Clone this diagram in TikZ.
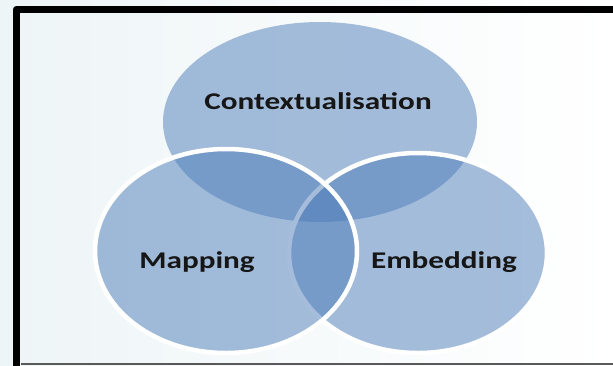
\documentclass[tikz,border=0pt]{standalone}
\usepackage{fontspec}
\newfontfamily\vennfont[FakeStretch=1.3]{Carlito}
\definecolor{vennblue}{RGB}{77,125,185}
\definecolor{bgtint}{RGB}{238,245,247}
\definecolor{labelink}{RGB}{22,22,22}
\tikzset{
  set/.style={fill=vennblue, fill opacity=0.5},
  setborder/.style={draw=white, line width=4.5pt},
  setlabel/.style={anchor=base, text=labelink, font=\vennfont\bfseries\fontsize{24}{28}\selectfont}
}
\begin{document}
\begin{tikzpicture}[x=1pt,y=-1pt]
\def\topset{(320,122) ellipse (157pt and 100pt)}
\def\leftset{(226,251) ellipse (131pt and 102pt)}
\def\rightset{(418,253) ellipse (129pt and 100pt)}

\useasboundingbox (0,0) rectangle (613,365);
\shade[left color=bgtint, right color=white] (0,0) rectangle (613,365);

\fill[set] \topset;
\fill[set] \rightset;
\draw[setborder] \rightset;
\fill[set] \leftset;
\draw[setborder] \leftset;

\draw[line width=7.5pt, line join=round] (16.5,366) -- (16.5,9.5) -- (614,9.5);
\draw[gray!70!black, line width=1.5pt] (20.5,364) -- (613,364);

\node[setlabel] (ctx) at (318,109) {Contextualisation};
\node[setlabel] (map) at (197,268) {Mapping};
\node[setlabel] (emb) at (444,268) {Embedding};
\end{tikzpicture}
\end{document}
